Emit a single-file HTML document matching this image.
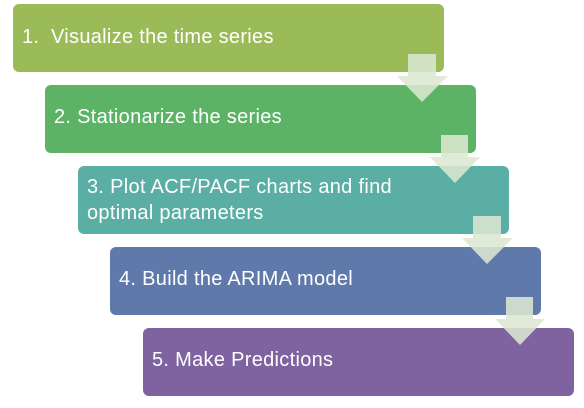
<!DOCTYPE html>
<html><head><style>
body{margin:0;width:584px;height:408px;background:#fff;position:relative;overflow:hidden;font-family:"Liberation Sans",sans-serif;}
.b{position:absolute;width:431px;height:68px;border-radius:6px;color:#fff;font-size:20px;letter-spacing:0.3px;box-sizing:border-box;}
.b span{position:absolute;left:9px;white-space:nowrap;}
svg{position:absolute;left:0;top:0;}
</style></head><body>
<div class="b" style="left:13px;top:4px;background:#9bbb59"><span style="top:22px">1.&nbsp; Visualize the time series</span></div>
<div class="b" style="left:45px;top:85px;background:#5cb366"><span style="top:21px">2. Stationarize the series</span></div>
<div class="b" style="left:78px;top:166px;background:#5aaea3"><span style="top:8px;line-height:26px">3. Plot ACF/PACF charts and find<br>optimal parameters</span></div>
<div class="b" style="left:110px;top:247px;background:#5f79ab"><span style="top:21px">4. Build the ARIMA model</span></div>
<div class="b" style="left:143px;top:328px;background:#7e63a0"><span style="top:21px">5. Make Predictions</span></div>
<svg width="584" height="408">
<g fill="#dbe7d2" fill-opacity="0.88">
<polygon points="408,54 436,54 436,76 448,76 422,102 397,76 408,76"/>
<polygon points="441,135 468,135 468,157 480,157 455,183 430,157 441,157"/>
<polygon points="473,216 501,216 501,238 513,238 487,264 462,238 473,238"/>
<polygon points="506,297 533,297 533,319 545,319 520,345 495,319 506,319"/>
</g>
</svg>
</body></html>
